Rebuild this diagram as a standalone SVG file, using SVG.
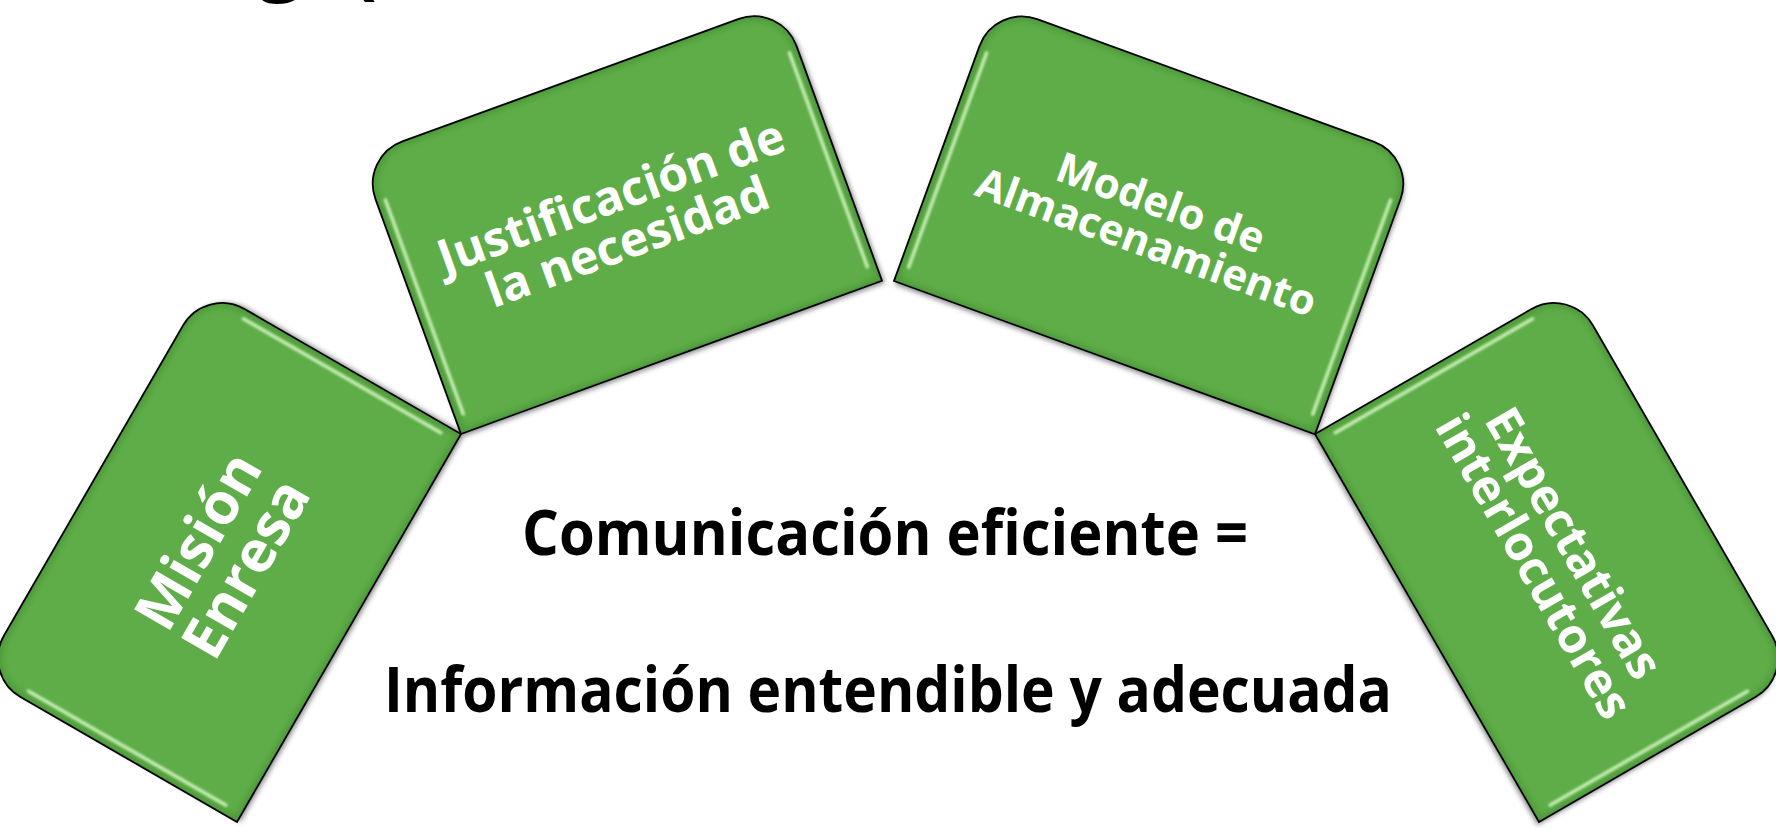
<svg xmlns="http://www.w3.org/2000/svg" xmlns:xlink="http://www.w3.org/1999/xlink" width="1776" height="829" viewBox="0 0 1776 829">
  <defs>
    <path id="shp" d="M0,0 H448 V-250 A45,45 0 0 0 403,-295 H45 A45,45 0 0 0 0,-250 Z"/>
    <clipPath id="clip"><use href="#shp" xlink:href="#shp"/></clipPath>
    <filter id="shadow" x="-10%" y="-10%" width="120%" height="120%">
      <feDropShadow dx="2" dy="3" stdDeviation="2.5" flood-color="#000" flood-opacity="0.45"/>
    </filter>
    <filter id="soft" x="-10%" y="-10%" width="120%" height="120%">
      <feGaussianBlur stdDeviation="1.3"/>
    </filter>
    <filter id="edge" x="-10%" y="-10%" width="120%" height="120%">
      <feGaussianBlur stdDeviation="3"/>
    </filter>
    <style>
      .box { fill: #5EAD4A; }
      .bevel { fill: none; stroke: #2F6E22; stroke-opacity: 0.35; stroke-width: 8; }
      .hl { fill: none; stroke: #D2F5C0; stroke-width: 3.5; stroke-linecap: round; opacity: 0.9; }
      .outline { fill: none; stroke: #000; stroke-width: 1.8; }
      .lbl { fill: #FFFFFF; font-family: "Open Sans", "Noto Sans", "Liberation Sans", sans-serif; font-weight: 700; text-anchor: middle; }
      .main { fill: #000000; font-family: "Open Sans", "Noto Sans", "Liberation Sans", sans-serif; font-weight: 700; text-anchor: middle; font-size: 62px; }
      .title { fill: #000000; font-family: "Open Sans", "Noto Sans", "Liberation Sans", sans-serif; font-weight: 700; font-size: 80px; }
    </style>
  </defs>

  <rect width="1776" height="829" fill="#FFFFFF"/>

  <!-- cut-off title fragment at the top edge -->
  <text class="title"><tspan x="258" y="-15">g</tspan><tspan x="350" y="-11">(</tspan></text>

  <g id="connectors"></g>

  <g id="node-mision" transform="translate(237,822) rotate(-60)">
    <use href="#shp" xlink:href="#shp" class="box" filter="url(#shadow)"/>
    <g clip-path="url(#clip)"><use href="#shp" xlink:href="#shp" class="bevel" filter="url(#edge)"/></g>
    <path class="hl" filter="url(#soft)" d="M9,-18 V-246 M439,-18 V-246"/>
    <use href="#shp" xlink:href="#shp" class="outline"/>
    <text class="lbl" font-size="58" x="224"><tspan x="224" y="-154">Misión</tspan><tspan x="224" y="-99">Enresa</tspan></text>
  </g>

  <g id="node-justificacion" transform="translate(461,434) rotate(-20)">
    <use href="#shp" xlink:href="#shp" class="box" filter="url(#shadow)"/>
    <g clip-path="url(#clip)"><use href="#shp" xlink:href="#shp" class="bevel" filter="url(#edge)"/></g>
    <path class="hl" filter="url(#soft)" d="M9,-18 V-246 M439,-18 V-246"/>
    <use href="#shp" xlink:href="#shp" class="outline"/>
    <text class="lbl" font-size="48" x="224"><tspan x="222" y="-155">Justificación de</tspan><tspan x="222" y="-107">la necesidad</tspan></text>
  </g>

  <g id="node-modelo" transform="translate(894,281) rotate(20)">
    <use href="#shp" xlink:href="#shp" class="box" filter="url(#shadow)"/>
    <g clip-path="url(#clip)"><use href="#shp" xlink:href="#shp" class="bevel" filter="url(#edge)"/></g>
    <path class="hl" filter="url(#soft)" d="M9,-18 V-246 M439,-18 V-246"/>
    <use href="#shp" xlink:href="#shp" class="outline"/>
    <text class="lbl" font-size="42" x="224"><tspan x="224" y="-150">Modelo de</tspan><tspan x="224" y="-108">Almacenamiento</tspan></text>
  </g>

  <g id="node-expectativas" transform="translate(1315,434) rotate(60)">
    <use href="#shp" xlink:href="#shp" class="box" filter="url(#shadow)"/>
    <g clip-path="url(#clip)"><use href="#shp" xlink:href="#shp" class="bevel" filter="url(#edge)"/></g>
    <path class="hl" filter="url(#soft)" d="M9,-18 V-246 M439,-18 V-246"/>
    <use href="#shp" xlink:href="#shp" class="outline"/>
    <text class="lbl" font-size="48" x="224"><tspan x="224" y="-153">Expectativas</tspan><tspan x="224" y="-107">interlocutores</tspan></text>
  </g>

  <g id="center-text">
    <text class="main" x="885" y="555" textLength="726" lengthAdjust="spacingAndGlyphs">Comunicación eficiente =</text>
    <text class="main" x="888" y="712" textLength="1008" lengthAdjust="spacingAndGlyphs">Información entendible y adecuada</text>
  </g>
</svg>
